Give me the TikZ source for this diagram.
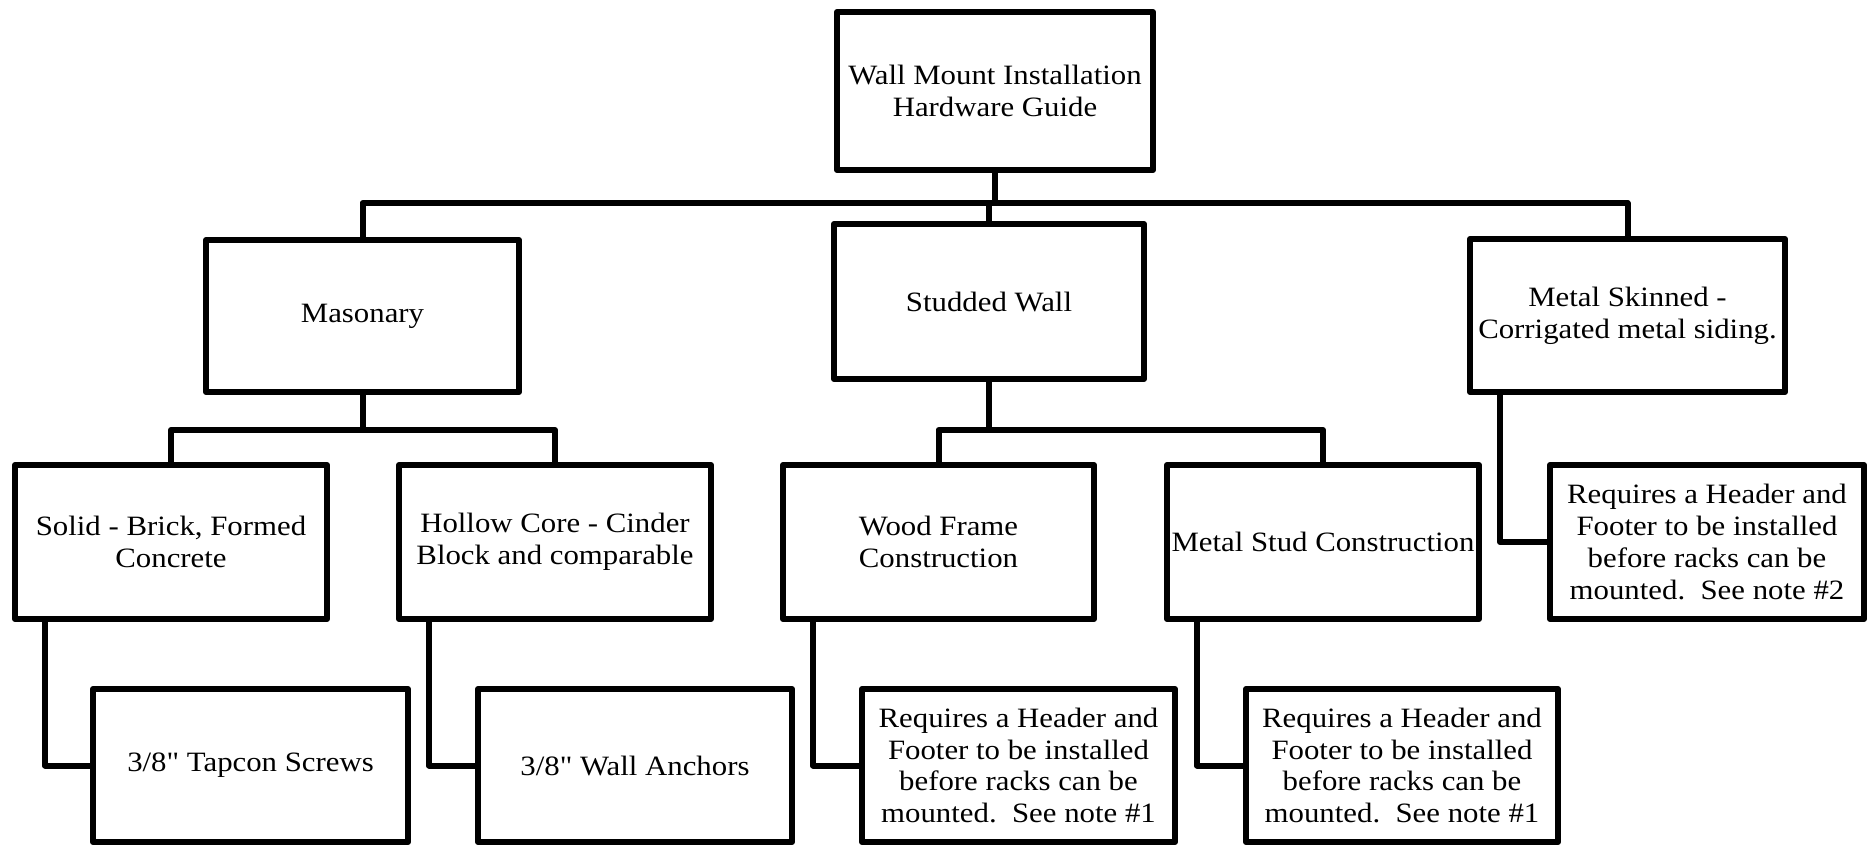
\documentclass[tikz,border=0pt]{standalone}
\usepackage{fontspec}
\setmainfont{Liberation Serif}[FakeStretch=1.1, Ligatures=TeXOff]
\begin{document}
\begin{tikzpicture}[x=1pt,y=-1pt,
  box/.style={draw=black, line width=6pt, rectangle, inner sep=0pt, align=center,
    font=\fontsize{28}{31.8}\selectfont, line join=round, fill=white},
  link/.style={draw=black, line width=6pt, line join=round},
]
\useasboundingbox[fill=white] (0,0) rectangle (1870,847);
\coordinate (busy) at (0,203);
\coordinate (subm) at (0,430);
% level 0
\node[box, minimum width=316pt, minimum height=158pt] (root) at (995,91) {Wall Mount Installation\\Hardware Guide};
% level 1
\node[box, minimum width=313pt, minimum height=152pt] (mas) at (362.5,316) {Masonary};
\node[box, minimum width=310pt, minimum height=155pt] (stud) at (989,301.5) {Studded Wall};
\node[box, minimum width=315pt, minimum height=153pt] (skin) at (1627.5,315.5) {Metal Skinned -\\Corrigated metal siding.};
% level 2
\node[box, minimum width=312pt, minimum height=154pt] (solid) at (171,542) {Solid - Brick, Formed\\Concrete};
\node[box, minimum width=312pt, minimum height=154pt] (hollow) at (555,542) {Hollow Core - Cinder\\Block and comparable};
\node[box, minimum width=311pt, minimum height=154pt] (wood) at (938.5,542) {Wood Frame\\Construction};
\node[box, minimum width=312pt, minimum height=154pt] (mstud) at (1323,542) {Metal Stud Construction};
\node[box, minimum width=314pt, minimum height=154pt] (nskin) at (1707,542) {Requires a Header and\\Footer to be installed\\before racks can be\\mounted.~~See note \#2};
% level 3
\node[box, minimum width=315pt, minimum height=153pt] (tapcon) at (250.5,765.5) {3/8" Tapcon Screws};
\node[box, minimum width=314pt, minimum height=153pt] (anchors) at (635,765.5) {3/8" Wall Anchors};
\node[box, minimum width=313pt, minimum height=153pt] (nwood) at (1018.5,765.5) {Requires a Header and\\Footer to be installed\\before racks can be\\mounted.~~See note \#1};
\node[box, minimum width=312pt, minimum height=153pt] (nmstud) at (1402,765.5) {Requires a Header and\\Footer to be installed\\before racks can be\\mounted.~~See note \#1};
% connectors
\draw[link] (root.south) -- (root.south |- busy);
\draw[link] (mas.north) -- (mas.north |- busy) -- (skin.north |- busy) -- (skin.north);
\draw[link] (stud.north) -- (stud.north |- busy);
\draw[link] (mas.south) -- (mas.south |- subm);
\draw[link] (solid.north) -- (solid.north |- subm) -- (hollow.north |- subm) -- (hollow.north);
\draw[link] (stud.south) -- (stud.south |- subm);
\draw[link] (wood.north) -- (wood.north |- subm) -- (mstud.north |- subm) -- (mstud.north);
\draw[link] ([xshift=33pt]solid.south west) |- (tapcon.west);
\draw[link] ([xshift=33pt]hollow.south west) |- (anchors.west);
\draw[link] ([xshift=33pt]wood.south west) |- (nwood.west);
\draw[link] ([xshift=33pt]mstud.south west) |- (nmstud.west);
\draw[link] ([xshift=33pt]skin.south west) |- (nskin.west);
\end{tikzpicture}
\end{document}
